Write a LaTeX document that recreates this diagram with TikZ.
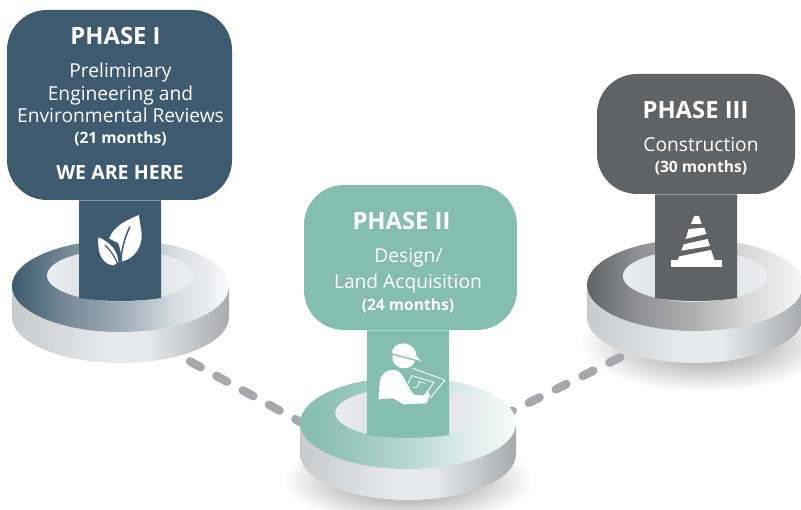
\documentclass[tikz,border=0pt]{standalone}
\usepackage{fontspec}
\setmainfont{Open Sans}
\definecolor{cblue}{HTML}{3D5A6E}
\definecolor{cteal}{HTML}{85BDB0}
\definecolor{cgray}{HTML}{616264}
\definecolor{cdash}{HTML}{A7A8AB}
\pgfdeclarehorizontalshading{topblue}{100bp}{color(0bp)=(cblue); color(25bp)=(cblue); color(37bp)=(cblue!72!white); color(50bp)=(cblue!50!white); color(62bp)=(cblue!22!white); color(75bp)=(cblue!3!white); color(100bp)=(white)}
\pgfdeclarehorizontalshading{topteal}{100bp}{color(0bp)=(cteal); color(25bp)=(cteal); color(37bp)=(cteal!85!white); color(50bp)=(cteal!60!white); color(62bp)=(cteal!30!white); color(75bp)=(cteal!6!white); color(100bp)=(white)}
\pgfdeclarehorizontalshading{topgray}{100bp}{color(0bp)=(cgray); color(25bp)=(cgray); color(37bp)=(cgray!70!white); color(50bp)=(cgray!50!white); color(62bp)=(cgray!25!white); color(75bp)=(cgray!5!white); color(100bp)=(white)}
\definecolor{wa}{HTML}{C9CACB}
\definecolor{wb}{HTML}{E8E9EA}
\definecolor{wc}{HTML}{A9AAAC}
\pgfdeclarehorizontalshading{wallshade}{100bp}{color(0bp)=(wa); color(25bp)=(wa); color(47bp)=(wb); color(56bp)=(wb); color(75bp)=(wc); color(100bp)=(wc)}
\definecolor{ha}{HTML}{DDDEDF}
\definecolor{hb}{HTML}{EDEEEF}
\pgfdeclarehorizontalshading{holeshade}{100bp}{color(0bp)=(hb); color(25bp)=(hb); color(40bp)=(ha); color(60bp)=(ha!70!hb); color(75bp)=(hb); color(100bp)=(hb)}
\tikzset{
  phasebox/.style={rounded corners=40pt,inner sep=0pt,outer sep=0pt,anchor=north west},
  phasetitle/.style={text=white,anchor=base,inner sep=0pt,font=\fontsize{23.8}{23.8}\selectfont\bfseries},
  phasetext/.style={text=white,anchor=base,inner sep=0pt,font=\fontsize{19.2}{19.2}\selectfont},
  phasemonths/.style={text=white,anchor=base,inner sep=0pt,font=\fontsize{15.6}{15.6}\selectfont\bfseries},
  dashline/.style={draw=cdash,line width=8.5pt,line cap=round,dash pattern=on 12pt off 18pt},
  iconfill/.style={fill=white,draw=none},
}
\begin{document}
\begin{tikzpicture}[x=1pt,y=-1pt]
\useasboundingbox (0,0) rectangle (801,510);
% named anchors for the connectors
\coordinate (hubA) at (120,323);
\coordinate (hubB) at (408,481);
\coordinate (hubBb) at (408,463);
\coordinate (hubC) at (695,320);
% soft shadows
\shade[inner color=black!48,outer color=white] (408,480) ellipse [x radius=125,y radius=44];
\shade[inner color=black!45,outer color=white] (705,342) ellipse [x radius=125,y radius=50];
% dashed links
\draw[dashline,dash phase=10] (hubA) -- (hubB);
\draw[dashline,dash phase=15] (hubBb) -- (hubC);
% ring 1
\shade[shading=wallshade] (12,286) -- (12,317) arc [start angle=180,end angle=0,x radius=108.5,y radius=46] -- (229,286) -- cycle;
\shade[shading=topblue] (120.5,286) ellipse [x radius=108.5,y radius=46];
\shade[shading=holeshade] (120,275.5) ellipse [x radius=73,y radius=26];
\fill[cblue] (79,200.5) -- (161,200.5) -- (161,298) .. controls (135,302) and (105,302) .. (79,298) -- cycle;
% ring 2
\shade[shading=wallshade] (300,423) -- (300,454) arc [start angle=180,end angle=0,x radius=108,y radius=46] -- (516,423) -- cycle;
\shade[shading=topteal] (408,423) ellipse [x radius=108,y radius=46];
\shade[shading=holeshade] (408,413) ellipse [x radius=72.5,y radius=25.5];
\fill[cteal] (367,330.5) -- (449,330.5) -- (449,435) .. controls (423,439) and (393,439) .. (367,435) -- cycle;
% ring 3
\shade[shading=wallshade] (587,285) -- (587,317) arc [start angle=180,end angle=0,x radius=108,y radius=46] -- (803,285) -- cycle;
\shade[shading=topgray] (695,285) ellipse [x radius=108,y radius=46];
\shade[shading=holeshade] (695,276) ellipse [x radius=72,y radius=26];
\fill[cgray] (655,194.5) -- (737,194.5) -- (737,298) .. controls (711,302) and (681,302) .. (655,298) -- cycle;
% boxes
\node[phasebox,fill=cblue,minimum width=225pt,minimum height=190pt] (boxA) at (7,10) {};
\node[phasebox,fill=cteal,minimum width=213pt,minimum height=145pt] (boxB) at (304,185) {};
\node[phasebox,fill=cgray,minimum width=198pt,minimum height=120pt] (boxC) at (597,74) {};
% box 1 text
\node[phasetitle] (a1) at (115.5,44.5) {PHASE I};
\node[phasetext] (a2) at (120.5,77.5) {Preliminary};
\node[phasetext] (a3) at (120.5,100.5) {Engineering and};
\node[phasetext] (a4) at (120.5,122.5) {Environmental Reviews};
\node[phasemonths] (a5) at (120.5,143.5) {(21 months)};
\node[phasetitle,font=\fontsize{19.6}{19.6}\selectfont\bfseries] (a6) at (120,179.5) {WE ARE HERE};
% box 2 text
\node[phasetitle] (b1) at (401.5,230) {PHASE II};
\node[phasetext] (b2) at (408.5,263) {Design/};
\node[phasetext] (b3) at (408,288.5) {Land Acquisition};
\node[phasemonths] (b4) at (408,310.5) {(24 months)};
% box 3 text
\node[phasetitle] (c1) at (695.5,118.5) {PHASE III};
\node[phasetext] (c2) at (701,151.5) {Construction};
\node[phasemonths] (c3) at (701,172.5) {(30 months)};
% leaf icon
\begin{scope}[shift={(85,205)},x=.3333pt,y=-.3333pt]
\fill[iconfill] (162,30) .. controls (125,45) and (88,62) .. (72,100) -- (100,115) .. controls (106,130) and (108,145) .. (110,170) .. controls (150,160) and (172,125) .. (170,85) .. controls (168,65) and (163,48) .. (162,30) -- cycle;
\fill[iconfill] (40,97) .. controls (36,140) and (50,178) .. (85,181) -- (100,172) .. controls (100,140) and (75,110) .. (40,97) -- cycle;
\draw[cblue,line width=1.5pt] (135,65) .. controls (120,95) and (110,130) .. (107,172);
\draw[cblue,line width=1.2pt] (60,120) .. controls (75,135) and (90,155) .. (98,178);
\end{scope}
% worker icon
\begin{scope}[shift={(360,335)},x=.3333pt,y=-.3333pt]
\fill[iconfill] (55,193) -- (60,135) .. controls (65,110) and (95,100) .. (112,107) .. controls (130,115) and (140,150) .. (160,178) -- (190,182) -- (204,166) -- (210,180) -- (200,205) -- (130,208) -- (100,190) -- cycle;
\fill[iconfill] (96,53) .. controls (95,38) and (112,24) .. (132,25) .. controls (155,27) and (170,45) .. (170,65) -- (183,78) -- (100,56) -- cycle;
\fill[iconfill] (98,60) -- (165,78) .. controls (155,110) and (105,105) .. (98,75) -- cycle;
\draw[white,line width=.9pt] (158,100) -- (255,135) -- (210,190);
\draw[white,line width=.9pt] (145,145) -- (155,122) -- (222,142) -- (198,175);
\draw[white,line width=.9pt] (160,158) .. controls (175,158) and (176,150) .. (178,140) -- (195,145);
\end{scope}
% cone icon
\begin{scope}[shift={(570,180)},x=.3333pt,y=-.3333pt]
\fill[iconfill] (304,241) rectangle (457,260);
\fill[iconfill] (373,108) -- (387,108) -- (395,132) -- (363,132) -- cycle;
\fill[iconfill] (356,147) -- (403,143) -- (409,162) -- (347,177) -- cycle;
\fill[iconfill] (341,193) -- (413,177) -- (420,198) -- (334,212) -- cycle;
\fill[iconfill] (328,229) -- (423,210) -- (434,241) -- (322,241) -- cycle;
\end{scope}
\end{tikzpicture}
\end{document}
